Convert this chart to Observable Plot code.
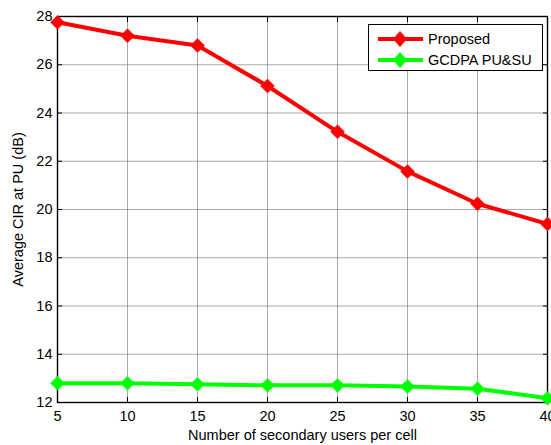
<!DOCTYPE html>
<html>
<head>
<meta charset="utf-8">
<script src="https://cdn.jsdelivr.net/npm/d3@7"></script>
<script src="https://cdn.jsdelivr.net/npm/@observablehq/plot@0.6"></script>
<style>
  html, body { margin: 0; padding: 0; background: #fff; }
  #wrap { position: relative; width: 551px; height: 445px; font-family: "Liberation Sans", Arial, sans-serif; }
  #legend { position: absolute; left: 368px; top: 24px; width: 175px; height: 47px; border: 1px solid #000; background: #fff; box-sizing: border-box; font-size: 14.5px; }
  .row { position: absolute; left: 8px; display: flex; align-items: center; height: 20px; }
  .row span { margin-left: 5px; color: #000; }
</style>
</head>
<body>
<div id="wrap"></div>
<script>
const users = [5, 10, 15, 20, 25, 30, 35, 40];
const proposed = [27.76, 27.2, 26.8, 25.12, 23.22, 21.58, 20.24, 19.4];
const gcdpa = [12.8, 12.8, 12.76, 12.71, 12.71, 12.66, 12.57, 12.18];
const seriesNames = ["Proposed", "GCDPA PU&SU"];
const seriesColors = ["#ff0000", "#00ff00"];
const xTicks = [5, 10, 15, 20, 25, 30, 35, 40];
const yTicks = [12, 14, 16, 18, 20, 22, 24, 26, 28];

const rows = [];
users.forEach((u, i) => {
  rows.push({x: u, y: proposed[i], s: seriesNames[0]});
  rows.push({x: u, y: gcdpa[i], s: seriesNames[1]});
});

const font = "Liberation Sans, Arial, sans-serif";
const chart = Plot.plot({
  width: 551,
  height: 445,
  marginLeft: 57,
  marginRight: 4,
  marginTop: 16,
  marginBottom: 43,
  style: {fontFamily: font, fontSize: "14.5px", color: "#000", background: "#fff", overflow: "visible"},
  x: {domain: [5, 40]},
  y: {domain: [12, 28]},
  color: {domain: seriesNames, range: seriesColors},
  marks: [
    Plot.gridX(xTicks, {stroke: "#707070", strokeOpacity: 0.6, strokeWidth: 1}),
    Plot.gridY(yTicks, {stroke: "#707070", strokeOpacity: 0.6, strokeWidth: 1}),
    Plot.axisX(xTicks, {anchor: "bottom", tickSize: -5, tickPadding: 13, fontSize: 14.5, label: null}),
    Plot.axisX({anchor: "bottom", ticks: [], label: "Number of secondary users per cell", labelAnchor: "center", labelArrow: "none", labelOffset: 37, fontSize: 14.5}),
    Plot.axisX(xTicks, {anchor: "top", tickSize: -5, tickFormat: () => "", label: null}),
    Plot.axisY(yTicks, {anchor: "left", tickSize: -5, tickPadding: 10, fontSize: 14.5, label: null}),
    Plot.axisY({anchor: "left", ticks: [], label: "Average CIR at PU (dB)", labelAnchor: "center", labelArrow: "none", labelOffset: 45, fontSize: 14.5}),
    Plot.axisY(yTicks, {anchor: "right", tickSize: -5, tickFormat: () => "", label: null}),
    Plot.frame({stroke: "#000", strokeWidth: 1.4}),
    Plot.line(rows, {x: "x", y: "y", z: "s", stroke: "s", strokeWidth: 4}),
    Plot.dot(rows, {x: "x", y: "y", fill: "s", stroke: "s", symbol: "diamond2", r: 6.3, strokeWidth: 0.5})
  ]
});

const wrap = document.getElementById("wrap");
wrap.appendChild(chart);

const legend = document.createElement("div");
legend.id = "legend";
seriesNames.forEach((name, i) => {
  const row = document.createElement("div");
  row.className = "row";
  row.style.top = (4 + i * 21) + "px";
  const ns = "http://www.w3.org/2000/svg";
  const svg = document.createElementNS(ns, "svg");
  svg.setAttribute("width", 46);
  svg.setAttribute("height", 20);
  const line = document.createElementNS(ns, "line");
  line.setAttribute("x1", 1); line.setAttribute("x2", 46);
  line.setAttribute("y1", 10); line.setAttribute("y2", 10);
  line.setAttribute("stroke", seriesColors[i]); line.setAttribute("stroke-width", 4);
  svg.appendChild(line);
  const d = document.createElementNS(ns, "path");
  d.setAttribute("d", "M23,2 L30,10 L23,18 L16,10 Z");
  d.setAttribute("fill", seriesColors[i]);
  svg.appendChild(d);
  row.appendChild(svg);
  const t = document.createElement("span");
  t.textContent = name;
  row.appendChild(t);
  legend.appendChild(row);
});
wrap.appendChild(legend);
</script>
</body>
</html>
